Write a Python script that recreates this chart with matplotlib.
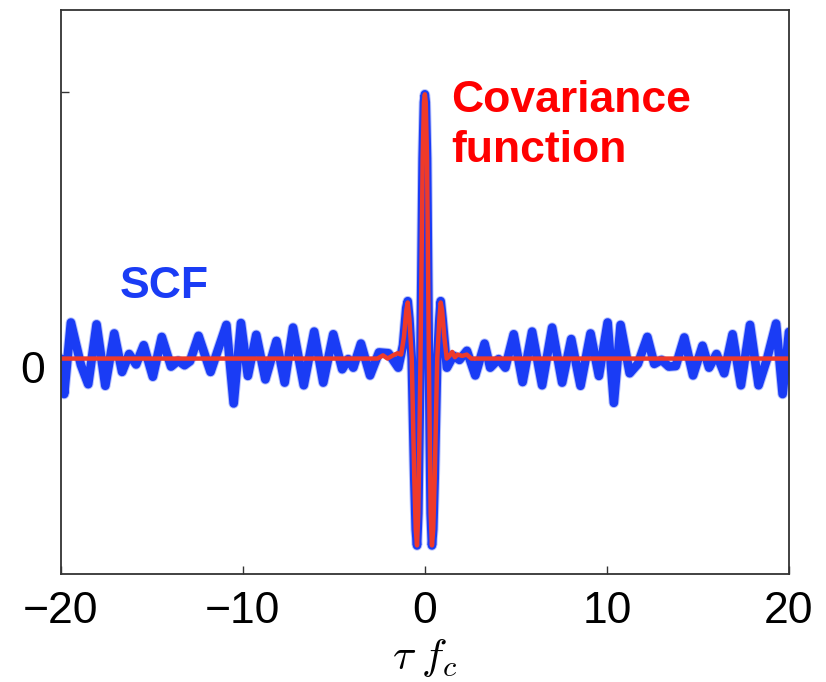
import matplotlib
matplotlib.use("Agg")
import matplotlib.pyplot as plt
from matplotlib.transforms import ScaledTranslation

plt.rcParams['font.family'] = ['Liberation Sans', 'DejaVu Sans']
plt.rcParams['mathtext.fontset'] = 'cm'

# ---- data ----
scf_x = [-20.0, -19.81, -19.44, -18.89, -18.49, -18.03, -17.55, -17.06, -16.63, -16.24,
         -15.86, -15.44, -14.94, -14.45, -13.94, -13.55, -13.2, -12.9, -12.43, -11.77,
         -10.90, -10.50, -10.10, -9.72, -9.26, -8.76, -8.15, -7.70, -7.24, -6.65,
         -6.08, -5.58, -5.03, -4.54, -4.21, -3.93, -3.51, -3.01, -2.52, -2.0,
         -1.46, -1.2, -1.02, -0.94, -0.85, -0.72, -0.58, -0.50, -0.43, -0.36,
         -0.24, -0.12, -0.05, 0.0, 0.05, 0.12, 0.22, 0.32, 0.39, 0.46,
         0.54, 0.68, 0.8, 0.87, 0.97, 1.21, 1.57, 1.9, 2.31, 2.77,
         3.28, 3.59, 4.05, 4.42, 4.88, 5.37, 5.89, 6.44, 6.99, 7.54,
         8.04, 8.55, 9.10, 9.56, 10.04, 10.38, 10.75, 11.25, 11.7, 12.22,
         12.6, 13.0, 13.4, 13.78, 14.25, 14.73, 15.25, 15.61, 16.02, 16.44,
         16.9, 17.36, 17.86, 18.33, 18.8, 19.29, 19.65, 20.0]
scf_y = [0.0, -0.133, 0.135, -0.024, -0.096, 0.128, -0.102, 0.094, -0.050, 0.017,
         -0.022, 0.050, -0.068, 0.081, -0.030, -0.008, -0.025, -0.010, 0.085, -0.050,
         0.126, -0.168, 0.133, -0.065, 0.089, -0.078, 0.066, -0.090, 0.116, -0.100,
         0.101, -0.090, 0.091, -0.040, -0.002, -0.034, 0.056, -0.063, 0.023, 0.020,
         -0.034, 0.05, 0.19, 0.215, 0.15, 0.0, -0.45, -0.64, -0.70, -0.58,
         0.0, 0.75, 0.96, 0.99, 0.96, 0.75, 0.0, -0.58, -0.70, -0.64,
         -0.45, 0.0, 0.15, 0.215, 0.15, -0.034, 0.011, -0.005, 0.029, -0.063,
         0.056, -0.034, -0.002, -0.034, 0.091, -0.088, 0.101, -0.100, 0.116, -0.090,
         0.073, -0.102, 0.094, -0.065, 0.135, -0.166, 0.126, -0.055, -0.020, 0.081,
         -0.020, -0.005, -0.030, -0.028, 0.079, -0.063, 0.048, -0.034, 0.017, -0.055,
         0.091, -0.100, 0.126, -0.100, 0.0, 0.131, -0.133, 0.10]

cov_x = [-20.0, -2.6, -2.3, -2.05, -1.75, -1.5, -1.3, -1.15, -1.02, -0.94,
         -0.85, -0.72, -0.58, -0.50, -0.43, -0.36, -0.24, -0.12, -0.05, 0.0,
         0.05, 0.12, 0.22, 0.32, 0.39, 0.46, 0.54, 0.68, 0.8, 0.87,
         0.95, 1.07, 1.2, 1.35, 1.5, 1.65, 1.8, 2.05, 2.3, 2.55, 20.0]
cov_y = [0.0, 0.0, 0.012, 0.0, 0.012, 0.02, 0.015, 0.08, 0.18, 0.21,
         0.15, 0.0, -0.45, -0.64, -0.70, -0.58, 0.0, 0.75, 0.96, 0.99,
         0.96, 0.75, 0.0, -0.58, -0.70, -0.64, -0.45, 0.0, 0.15, 0.21,
         0.18, 0.08, 0.0, 0.01, 0.025, 0.005, 0.015, 0.01, 0.015, 0.0, 0.0]

x_ticks = [-20, -10, 0, 10, 20]
x_ticklabels = ['\u221220', '\u221210', '0', '10', '20']
y_ticks = [0, 1]
y_ticklabels = ['0', '']

BLUE = '#1a3cf5'
RED = '#ee3a2a'

fig = plt.figure(figsize=(8.26, 6.82), dpi=100)
ax = fig.add_axes([0.0735, 0.158, 0.8817, 0.827])

ax.plot(scf_x, scf_y, color=BLUE, lw=7.6, alpha=0.3,
        solid_joinstyle='round', solid_capstyle='round')
ax.plot(scf_x, scf_y, color=BLUE, lw=6.2,
        solid_joinstyle='round', solid_capstyle='round')
ax.plot(cov_x, cov_y, color=RED, lw=3.2,
        solid_joinstyle='round', solid_capstyle='round')

ax.set_xlim(-20, 20)
ax.set_ylim(-0.808, 1.305)
ax.set_xticks(x_ticks)
ax.set_xticklabels(x_ticklabels)
ax.set_yticks(y_ticks)
ax.set_yticklabels(y_ticklabels)
ax.tick_params(direction='in', length=6, width=1, labelsize=32, colors='#333333',
               labelcolor='black')
ax.tick_params(axis='x', pad=12)
ax.tick_params(axis='y', pad=11)
for s in ax.spines.values():
    s.set_linewidth(1.3)
    s.set_color('#333333')

shift = ScaledTranslation(0, -8 / 100, fig.dpi_scale_trans)
for lbl in ax.get_yticklabels():
    lbl.set_transform(lbl.get_transform() + shift)

ax.set_xlabel(r'$\tau\;f_c$', fontsize=31, labelpad=4)

ax.text(-16.74, 0.227, 'SCF', color=BLUE, fontsize=32, fontweight='bold',
        ha='left', va='baseline')
ax.text(1.45, 0.925, 'Covariance', color='#ff0000', fontsize=32, fontweight='bold',
        ha='left', va='baseline')
ax.text(1.45, 0.738, 'function', color='#ff0000', fontsize=32, fontweight='bold',
        ha='left', va='baseline')

fig.savefig('out.png', dpi=100)
